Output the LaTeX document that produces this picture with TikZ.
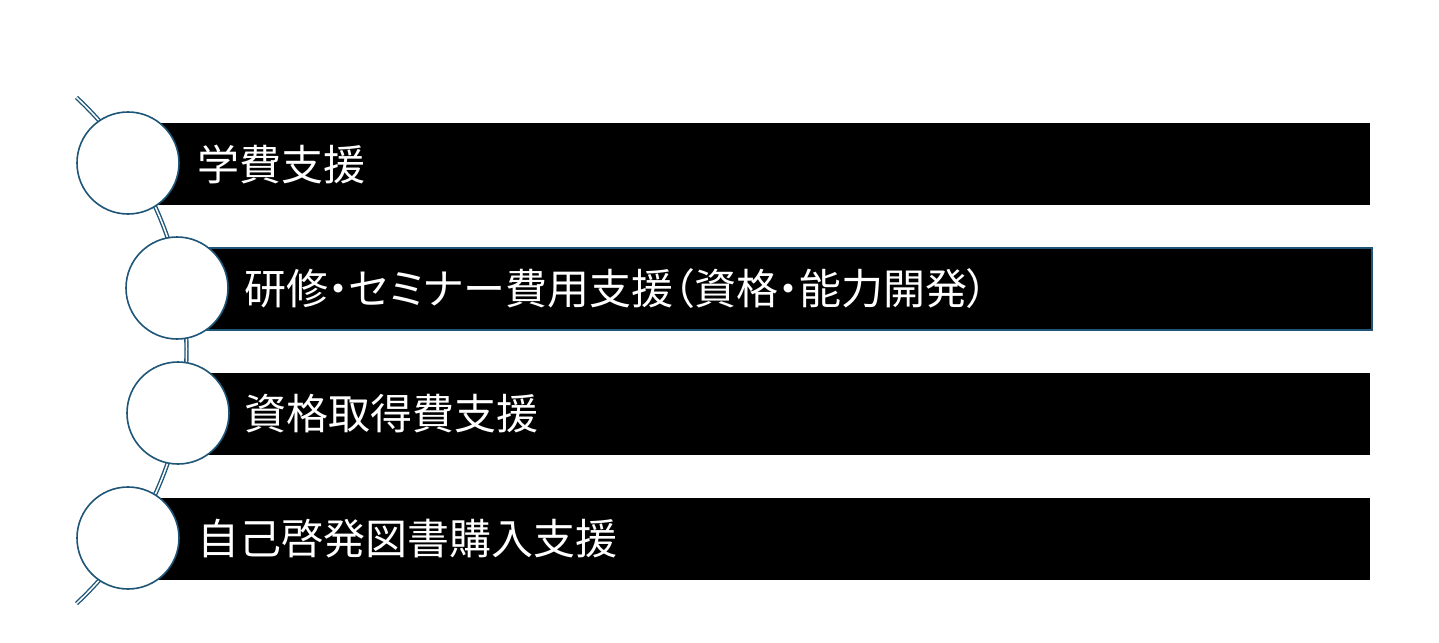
\documentclass[tikz,border=0pt]{standalone}
\usepackage{fontspec}
\usepackage{xcolor}
\usepackage{tikz}
\usetikzlibrary{positioning, calc}
\newfontfamily\jpfont[RawFeature=+palt]{Noto Sans CJK JP}
\definecolor{spineblue}{RGB}{31,86,120}

\tikzset{
  bar/.style={fill=black, anchor=west, minimum width=1242pt, minimum height=82pt, inner sep=0pt},
  dot/.style={circle, draw=spineblue, line width=1.6pt, fill=white, minimum size=102pt, inner sep=0pt},
  lbl/.style={anchor=west, text=white, inner sep=0pt, font=\jpfont\fontsize{42}{50}\selectfont},
  spine/.style={draw=spineblue, double=white, double distance=1.5pt, line width=1.4pt}
}

\begin{document}
\begin{tikzpicture}[x=1pt, y=1pt]
  \useasboundingbox (0,0) rectangle (1439,-642);

  % spine behind everything
  \coordinate (top) at ($(-159.5,-350.5)+(47:346)$);
  \draw[spine] (top) arc[start angle=47, end angle=-47, radius=346];

  % bars
  \node[bar] (b1) at (128,-164) {};
  \node[bar, minimum width=1172pt, draw=spineblue, line width=1.5pt] (b2) at (199,-289) {};
  \node[bar, minimum width=1192pt] (b3) at (178,-414) {};
  \node[bar] (b4) at (128,-539) {};

  % circles
  \node[dot] (c1) at (128,-163) {};
  \node[dot] (c2) at (177,-288) {};
  \node[dot] (c3) at (178,-413) {};
  \node[dot] (c4) at (128,-538) {};

  % labels
  \node[lbl] (t1) at (197,-164) {学費支援};
  \node[lbl] (t2) at (244,-289) {研修・セミナー費用支援（資格・能力開発）};
  \node[lbl] (t3) at (244,-414) {資格取得費支援};
  \node[lbl] (t4) at (197,-539) {自己啓発図書購入支援};
\end{tikzpicture}
\end{document}
